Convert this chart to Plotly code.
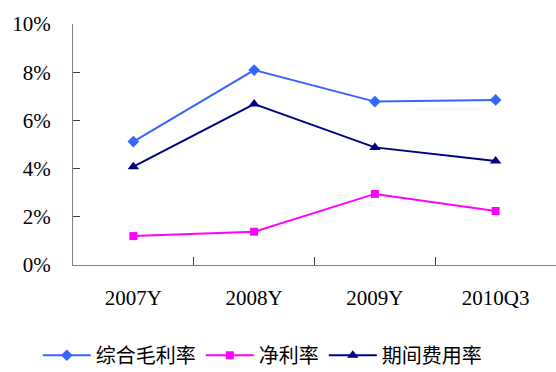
import plotly.graph_objects as go

categories = ["2007Y", "2008Y", "2009Y", "2010Q3"]
gross_margin = [5.12, 8.09, 6.78, 6.85]
net_margin = [1.20, 1.38, 2.95, 2.24]
expense_ratio = [4.08, 6.68, 4.88, 4.32]
y_ticks = [0, 2, 4, 6, 8, 10]

series = [
    ("综合毛利率", gross_margin, "#3366FF", "diamond", 9),
    ("净利率", net_margin, "#FF00FF", "square", 8),
    ("期间费用率", expense_ratio, "#000080", "triangle-up", 10),
]

fig = go.Figure()
for name, vals, color, sym, sz in series:
    fig.add_trace(go.Scatter(
        x=categories, y=[v / 100 for v in vals], name=name, mode="lines+markers",
        line=dict(color=color, width=2),
        marker=dict(symbol=sym, size=sz, color=color),
    ))

serif = "Liberation Serif, Times New Roman, serif"
fig.update_layout(
    width=556, height=372,
    margin=dict(l=73, r=0, t=24, b=107),
    paper_bgcolor="white", plot_bgcolor="white",
    showlegend=True,
    legend=dict(orientation="h", xref="container", yref="container",
                x=0.068, xanchor="left", y=0.045, yanchor="middle",
                font=dict(family="Noto Sans CJK SC", size=20, color="#000"),
                itemwidth=48, tracegroupgap=0),
    font=dict(family=serif, size=21, color="#000"),
)
fig.update_xaxes(
    type="category", range=[-0.5, 3.5], showgrid=False,
    showline=True, linecolor="#808080", linewidth=1,
    ticks="inside", ticklen=8, tickcolor="#404040", tickson="boundaries",
    tickfont=dict(family=serif, size=21, color="#000"), ticklabelstandoff=14,
)
fig.update_yaxes(
    range=[0, 0.10], tickvals=[t / 100 for t in y_ticks],
    ticktext=[f"{t}%" for t in y_ticks], showgrid=False, zeroline=False,
    showline=True, linecolor="#808080", linewidth=1,
    ticks="inside", ticklen=7, tickcolor="#404040",
    tickfont=dict(family=serif, size=21, color="#000"), ticklabelstandoff=17,
)
fig.write_html("out.html")
